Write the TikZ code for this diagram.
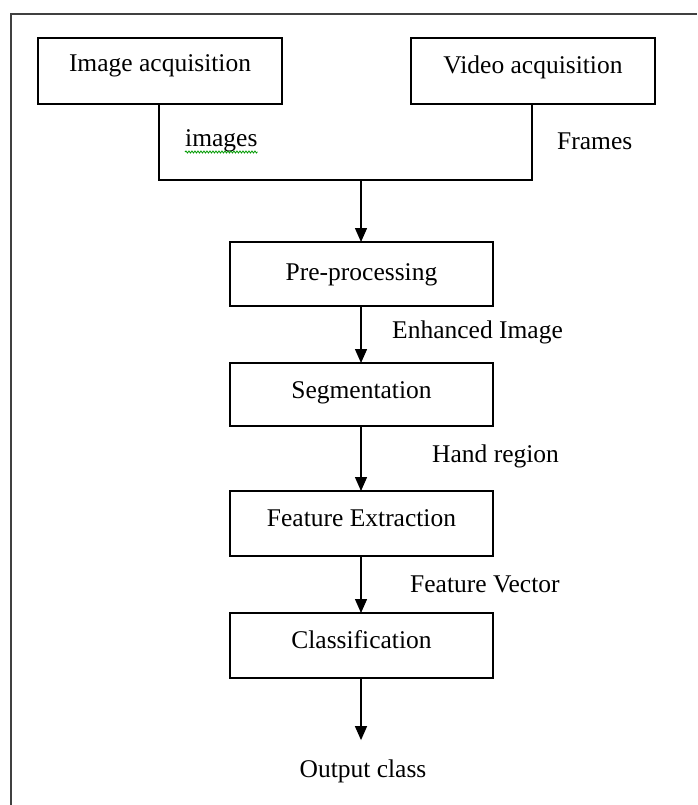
\documentclass[tikz,border=0pt]{standalone}
\usepackage{fontspec}
\setmainfont{Liberation Serif}
\usetikzlibrary{arrows.meta,decorations.pathmorphing}
\begin{document}
\begin{tikzpicture}[x=1pt,y=-1pt,
  every node/.style={font=\fontsize{25.5}{30}\selectfont},
  box/.style={draw,line width=2pt,rectangle,inner sep=0pt,outer sep=0pt,
    text height=17pt,text depth=12pt},
  lbl/.style={inner sep=0pt,anchor=base west},
  arr/.style={line width=1.4pt,-{Triangle[length=14pt,width=12pt]}},
  conn/.style={line width=1.8pt}]
\useasboundingbox (0,0) rectangle (697,805);
\draw[line width=2pt,black!75] (11,805) -- (11,14) -- (697,14);

\node[box,minimum width=244pt,minimum height=66pt,text depth=15pt] (img) at (160,71) {Image acquisition};
\node[box,minimum width=244pt,minimum height=66pt,text depth=11pt] (vid) at (533,71) {Video acquisition};
\node[box,minimum width=263pt,minimum height=64pt,text depth=5pt] (pre) at (361.5,274) {Pre-processing};
\node[box,minimum width=263pt,minimum height=63pt,text depth=10pt] (seg) at (361.5,394.5) {Segmentation};
\node[box,minimum width=263pt,minimum height=65pt,text depth=12pt] (fe) at (361.5,523.5) {Feature Extraction};
\node[box,minimum width=263pt,minimum height=65pt,text depth=12pt] (cls) at (361.5,645.5) {Classification};
\node[inner sep=0pt,anchor=base] (out) at (363,777) {Output class};

\coordinate (jl) at (159,180);
\coordinate (jr) at (532,180);
\coordinate (jm) at (361,180);

\draw[conn] (img.south -| jl) -- (jl) -- (jr) -- (vid.south -| jr);
\draw[arr] (jm) -- (jm |- pre.north);
\draw[arr] (pre.south -| jm) -- (seg.north -| jm);
\draw[arr] (seg.south -| jm) -- (fe.north -| jm);
\draw[arr] (fe.south -| jm) -- (cls.north -| jm);
\draw[arr] (cls.south -| jm) -- ([yshift=19pt]out.north -| jm);

\node[lbl] (limg) at (185,147) {images};
\draw[green!60!black,line width=0.8pt,decorate,decoration={snake,amplitude=1pt,segment length=3pt}]
  ([yshift=-5pt]limg.base west) -- ([yshift=-5pt]limg.base east);
\node[lbl] (lfr) at (557,150) {Frames};
\node[lbl] (lenh) at (392,338) {Enhanced Image};
\node[lbl] (lhand) at (432,462) {Hand region};
\node[lbl] (lfv) at (410,592) {Feature Vector};
\end{tikzpicture}
\end{document}
